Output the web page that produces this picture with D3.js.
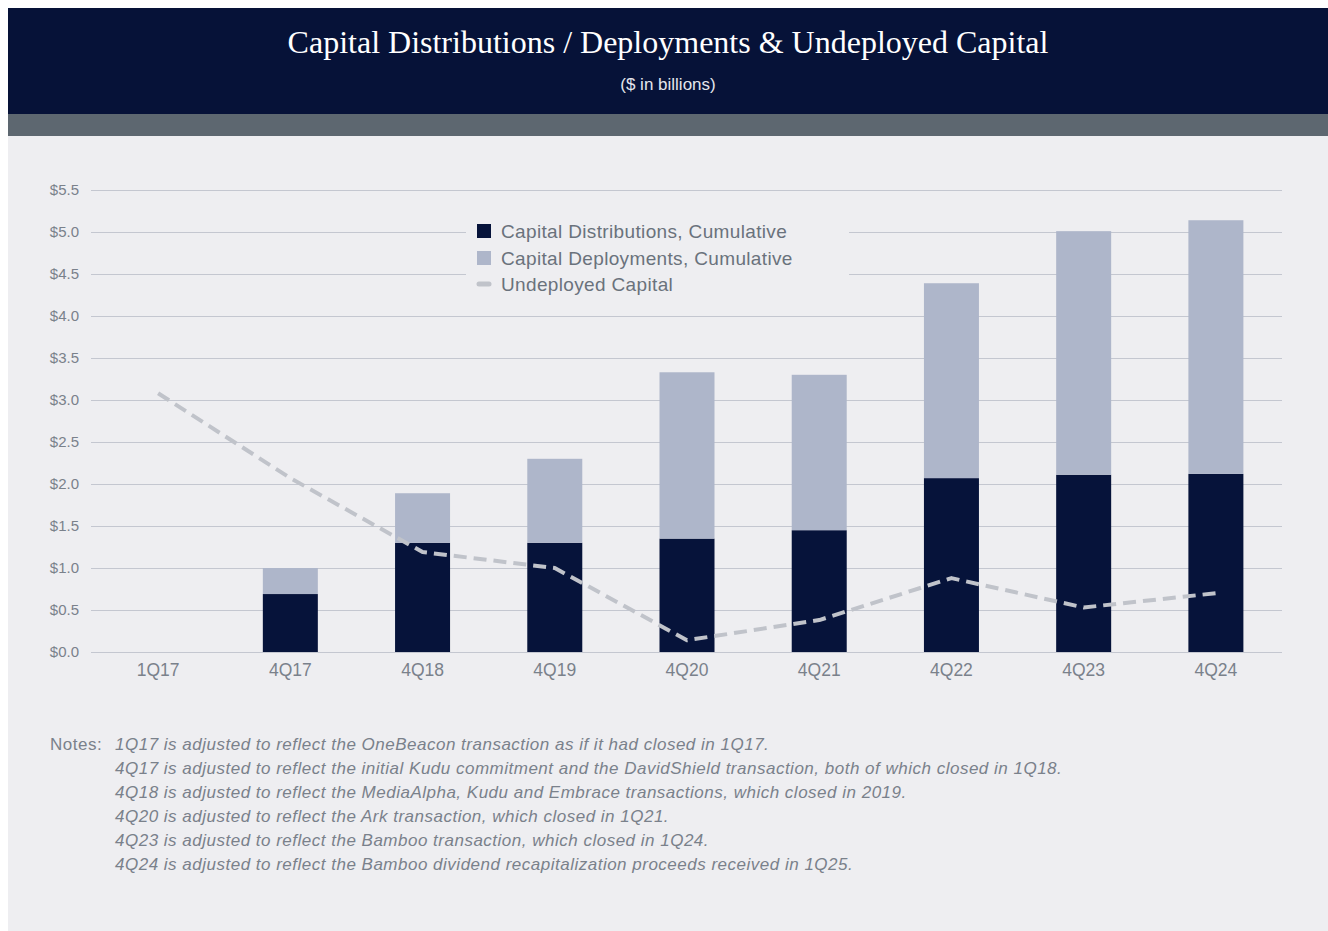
<!DOCTYPE html>
<html>
<head>
<meta charset="utf-8">
<script src="https://cdn.jsdelivr.net/npm/d3@7"></script>
<style>
  html, body { margin: 0; padding: 0; background: #ffffff; }
  svg { display: block; }
</style>
</head>
<body>
<svg id="chart" width="1328" height="931"></svg>
<script>
const categories = ["1Q17", "4Q17", "4Q18", "4Q19", "4Q20", "4Q21", "4Q22", "4Q23", "4Q24"];
const distributions = [0, 0.69, 1.30, 1.30, 1.35, 1.45, 2.07, 2.11, 2.12];
const deployments = [0, 0.31, 0.59, 1.00, 1.98, 1.85, 2.32, 2.90, 3.02];
const undeployed = [3.08, 2.07, 1.19, 1.00, 0.14, 0.38, 0.88, 0.53, 0.70];
const yTicks = [0, 0.5, 1.0, 1.5, 2.0, 2.5, 3.0, 3.5, 4.0, 4.5, 5.0, 5.5];
const seriesNames = ["Capital Distributions, Cumulative", "Capital Deployments, Cumulative", "Undeployed Capital"];
const title = "Capital Distributions / Deployments & Undeployed Capital";
const subtitle = "($ in billions)";
const notes = [
  "1Q17 is adjusted to reflect the OneBeacon transaction as if it had closed in 1Q17.",
  "4Q17 is adjusted to reflect the initial Kudu commitment and the DavidShield transaction, both of which closed in 1Q18.",
  "4Q18 is adjusted to reflect the MediaAlpha, Kudu and Embrace transactions, which closed in 2019.",
  "4Q20 is adjusted to reflect the Ark transaction, which closed in 1Q21.",
  "4Q23 is adjusted to reflect the Bamboo transaction, which closed in 1Q24.",
  "4Q24 is adjusted to reflect the Bamboo dividend recapitalization proceeds received in 1Q25."
];

const C = {
  navy: "#061238", band: "#5d6770", panel: "#eeeef1",
  dark: "#06133a", light: "#aeb6ca", line: "#c0c3ca",
  grid: "#c4c7d0", text: "#7a818b", legendText: "#6a727c"
};
const SANS = "'Helvetica Neue', Helvetica, 'Liberation Sans', Arial, sans-serif";

const svg = d3.select("#chart");

// Backgrounds
svg.append("rect").attr("x", 8).attr("y", 8).attr("width", 1320).attr("height", 106).attr("fill", C.navy);
svg.append("rect").attr("x", 8).attr("y", 114).attr("width", 1320).attr("height", 22).attr("fill", C.band);
svg.append("rect").attr("x", 8).attr("y", 136).attr("width", 1320).attr("height", 795).attr("fill", C.panel);

// Title
svg.append("text").attr("x", 668).attr("y", 53).attr("text-anchor", "middle")
  .attr("font-family", "'Times New Roman', 'Liberation Serif', serif").attr("font-size", 32)
  .attr("fill", "#ffffff").text(title);
svg.append("text").attr("x", 668).attr("y", 90).attr("text-anchor", "middle")
  .attr("font-family", SANS).attr("font-size", 17).attr("fill", "#e4e6ec").text(subtitle);

// Scales
const x = d3.scaleBand().domain(categories).range([92, 1282]).paddingInner(0.584).paddingOuter(0.292);
const y = d3.scaleLinear().domain([0, 5.5]).range([652, 190]);

const g = svg.append("g");

// Gridlines via axis
const yAxis = d3.axisLeft(y).tickValues(yTicks).tickSize(-(1282 - 91)).tickFormat(d => "$" + d3.format(".1f")(d)).tickPadding(12);
const yg = g.append("g").attr("transform", "translate(91,0)").call(yAxis);
yg.select(".domain").remove();
yg.selectAll(".tick line").attr("stroke", C.grid).attr("stroke-width", 1.2);
yg.selectAll(".tick text").attr("font-family", SANS).attr("font-size", 15).attr("fill", C.text);

// Stacked bars
const rows = categories.map((c, i) => ({ cat: c, dist: distributions[i], dep: deployments[i] }));
const stack = d3.stack().keys(["dist", "dep"])(rows);
const colors = [C.dark, C.light];
stack.forEach((layer, li) => {
  g.append("g").selectAll("rect").data(layer).join("rect")
    .attr("x", d => x(d.data.cat))
    .attr("width", x.bandwidth())
    .attr("y", d => y(d[1]))
    .attr("height", d => Math.max(0, y(d[0]) - y(d[1])))
    .attr("fill", colors[li]);
});

// X axis labels
const xAxis = d3.axisBottom(x).tickSize(0).tickPadding(12);
const xg = g.append("g").attr("transform", "translate(0,652)").call(xAxis);
xg.select(".domain").remove();
xg.selectAll(".tick text").attr("font-family", SANS).attr("font-size", 17.5).attr("fill", C.text);

// Line
const lineGen = d3.line()
  .x((d, i) => x(categories[i]) + x.bandwidth() / 2)
  .y(d => y(d))
  .curve(d3.curveLinear);
g.append("path").datum(undeployed).attr("d", lineGen)
  .attr("fill", "none").attr("stroke", C.line).attr("stroke-width", 4)
  .attr("stroke-linejoin", "round")
  .attr("stroke-dasharray", "13,7");

// Legend
const lg = svg.append("g");
lg.append("rect").attr("x", 466).attr("y", 214).attr("width", 383).attr("height", 86).attr("fill", C.panel);
const legendRows = [231, 258, 284];
lg.append("rect").attr("x", 477).attr("y", legendRows[0] - 7).attr("width", 14).attr("height", 14).attr("fill", C.dark);
lg.append("rect").attr("x", 477).attr("y", legendRows[1] - 7).attr("width", 14).attr("height", 14).attr("fill", C.light);
lg.append("line").attr("x1", 479).attr("x2", 489).attr("y1", legendRows[2]).attr("y2", legendRows[2])
  .attr("stroke", C.line).attr("stroke-width", 5).attr("stroke-linecap", "round");
seriesNames.forEach((n, i) => {
  lg.append("text").attr("x", 501).attr("y", legendRows[i]).attr("dy", "0.35em")
    .attr("font-family", SANS).attr("font-size", 19).attr("letter-spacing", 0.35)
    .attr("fill", C.legendText).text(n);
});

// Notes
svg.append("text").attr("x", 50).attr("y", 750).attr("font-family", SANS).attr("font-size", 17)
  .attr("letter-spacing", 0.5).attr("fill", C.text).text("Notes:");
notes.forEach((n, i) => {
  svg.append("text").attr("x", 115).attr("y", 750 + i * 24).attr("font-family", SANS)
    .attr("font-size", 17).attr("letter-spacing", 0.5).attr("font-style", "italic")
    .attr("fill", C.text).text(n);
});
</script>
</body>
</html>
